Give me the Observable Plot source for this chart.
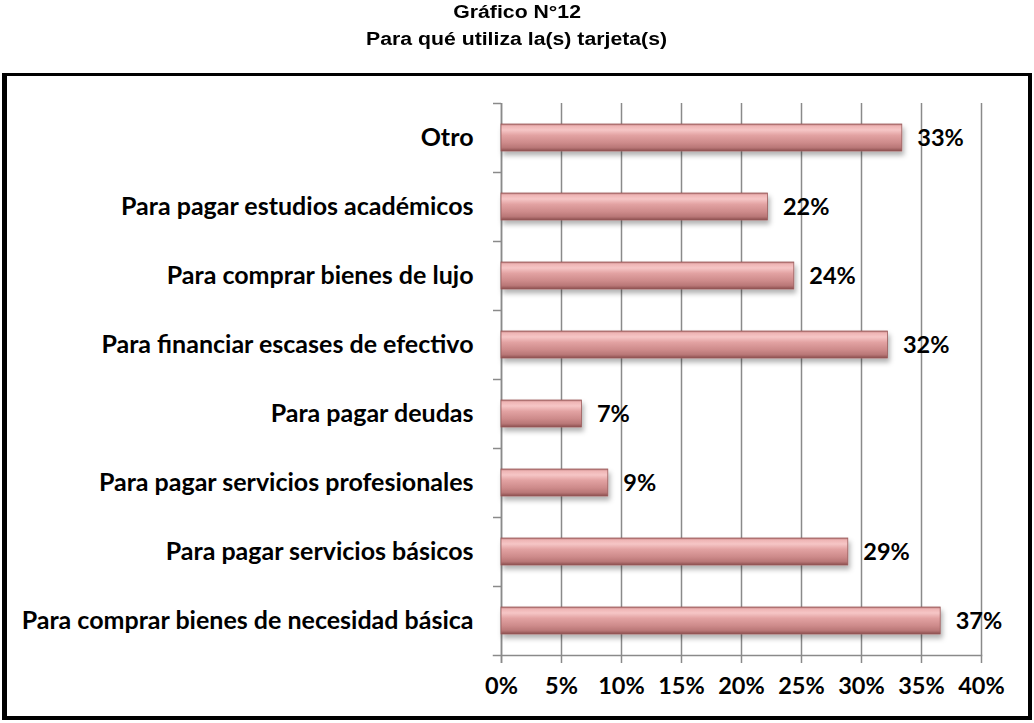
<!DOCTYPE html>
<html>
<head>
<meta charset="utf-8">
<script src="https://cdn.jsdelivr.net/npm/d3@7"></script>
<script src="https://cdn.jsdelivr.net/npm/@observablehq/plot@0.6"></script>
<style>
  html, body { margin: 0; padding: 0; background: #fff; }
  body { position: relative; width: 1034px; height: 723px; overflow: hidden; }
  .title { position: absolute; left: 0; width: 1034px; text-align: center;
           font-family: "Liberation Sans", Arial, sans-serif; font-weight: bold; font-size: 18px; color: #000; }
  .title span { display: inline-block; transform: scaleX(1.18); }
  #frame { position: absolute; left: 2px; top: 73px; width: 1021px; height: 640px;
           border-style: solid; border-color: #000; border-width: 3px 4px 4px 5px; }
  #chart { position: absolute; left: 7px; top: 76px; }
</style>
</head>
<body>
<div class="title" style="top:2px"><span>Gráfico N°12</span></div>
<div class="title" style="top:29px"><span>Para qué utiliza la(s) tarjeta(s)</span></div>
<div id="frame"></div>
<div id="chart"></div>
<script>
const categories = [
  "Otro",
  "Para pagar estudios académicos",
  "Para comprar bienes de lujo",
  "Para financiar escases de efectivo",
  "Para pagar deudas",
  "Para pagar servicios profesionales",
  "Para pagar servicios básicos",
  "Para comprar bienes de necesidad básica"
];
const values = [33.4, 22.2, 24.4, 32.2, 6.7, 8.9, 28.9, 36.6];
const valueLabels = ["33%", "22%", "24%", "32%", "7%", "9%", "29%", "37%"];
const xTicks = [0, 5, 10, 15, 20, 25, 30, 35, 40];

const data = categories.map((c, i) => ({cat: c, value: values[i], label: valueLabels[i]}));

const W = 1022, H = 642;
const mTop = 27, mBottom = 63, mLeft = 494, mRight = 48;
const step = (H - mTop - mBottom) / categories.length;
const font = "Lato, 'Open Sans', sans-serif";

const plot = Plot.plot({
  width: W, height: H,
  marginTop: mTop, marginBottom: mBottom, marginLeft: mLeft, marginRight: mRight,
  style: {fontFamily: font, fontWeight: "bold", color: "#000", background: "transparent", overflow: "visible"},
  x: {domain: [0, 40]},
  y: {domain: categories, paddingInner: 0.615, paddingOuter: 0.3075},
  marks: [
    Plot.gridX(xTicks, {stroke: "#8a8a8a", strokeOpacity: 1, strokeWidth: 1.5}),
    Plot.ruleX([0], {stroke: "#8a8a8a", strokeWidth: 1.5, insetBottom: -8}),
    Plot.ruleY(categories, {y: d => d, x1: 0, x2: 0, insetLeft: -8, dy: -step / 2, stroke: "#8a8a8a", strokeWidth: 1.5}),
    Plot.frame({anchor: "bottom", stroke: "#8a8a8a", strokeWidth: 1.5, insetLeft: -8}),
    Plot.axisX(xTicks, {tickSize: 8, tickPadding: 14, stroke: "#8a8a8a", strokeWidth: 1.5, tickFormat: d => d + "%", fontSize: 23.5, fill: "#000", label: null}),
    Plot.axisY({tickSize: 0, tickPadding: 28, fontSize: 25, fill: "#000", label: null}),
    Plot.barX(data, {x: "value", y: "cat", fill: "url(#barGrad)", stroke: "#9a5a5a", strokeWidth: 0.8}),
    Plot.text(data, {x: "value", y: "cat", text: "label", dx: 15, textAnchor: "start", fontSize: 23.5, fill: "#000"})
  ]
});

// gradient + shadow definitions for the bars
const svg = d3.select(plot);
const defs = svg.insert("defs", ":first-child");
const g = defs.append("linearGradient").attr("id", "barGrad").attr("x1", 0).attr("y1", 0).attr("x2", 0).attr("y2", 1);
[["0%", "#b07070"], ["7%", "#eeb4b4"], ["22%", "#f6c6c6"], ["42%", "#e2a2a2"], ["70%", "#cd8a8a"], ["88%", "#b87676"], ["100%", "#8a4e4e"]]
  .forEach(([o, c]) => g.append("stop").attr("offset", o).attr("stop-color", c));
const f = defs.append("filter").attr("id", "barShadow").attr("x", "-10%").attr("y", "-30%").attr("width", "130%").attr("height", "200%");
f.append("feDropShadow").attr("dx", 2).attr("dy", 4).attr("stdDeviation", 2.5).attr("flood-color", "#000").attr("flood-opacity", 0.3);
svg.selectAll("rect").filter(function() { return this.getAttribute("fill") === "url(#barGrad)" || (this.parentNode && this.parentNode.getAttribute("fill") === "url(#barGrad)"); })
  .attr("filter", "url(#barShadow)");

document.getElementById("chart").appendChild(plot);
</script>
</body>
</html>
